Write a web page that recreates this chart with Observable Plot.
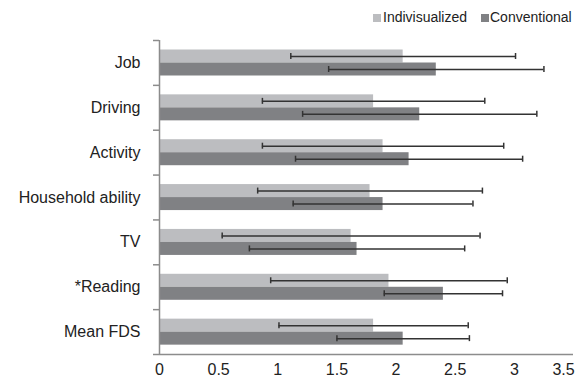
<!DOCTYPE html>
<html>
<head>
<meta charset="utf-8">
<script src="https://cdn.jsdelivr.net/npm/d3@7"></script>
<script src="https://cdn.jsdelivr.net/npm/@observablehq/plot@0.6"></script>
<style>
  body { margin: 0; background: #fff; font-family: "Liberation Sans", Arial, sans-serif; }
  #legend { position: relative; width: 579px; height: 30px; font-size: 14px; color: #222; }
  #legend .sw { position: absolute; width: 8px; height: 8px; top: 14px; }
  #legend .lb { position: absolute; top: 9px; line-height: 16px; white-space: nowrap; }
</style>
</head>
<body>
<div id="legend"></div>
<div id="chart"></div>
<script>
const categories = ["Job", "Driving", "Activity", "Household ability", "TV", "*Reading", "Mean FDS"];
const seriesNames = ["Indivisualized", "Conventional"];
const indivMean = [2.06, 1.81, 1.89, 1.78, 1.62, 1.94, 1.81];
const indivSD   = [0.95, 0.94, 1.02, 0.95, 1.09, 1.00, 0.80];
const convMean  = [2.34, 2.20, 2.11, 1.89, 1.67, 2.40, 2.06];
const convSD    = [0.91, 0.99, 0.96, 0.76, 0.91, 0.50, 0.56];
const xTicks = [0, 0.5, 1, 1.5, 2, 2.5, 3, 3.5];
const colors = ["#bcbdc0", "#808184"];

const rows = [];
categories.forEach((c, i) => {
  rows.push({cat: c, series: seriesNames[0], mean: indivMean[i], lo: indivMean[i] - indivSD[i], hi: indivMean[i] + indivSD[i]});
  rows.push({cat: c, series: seriesNames[1], mean: convMean[i], lo: convMean[i] - convSD[i], hi: convMean[i] + convSD[i]});
});
const ind = rows.filter(d => d.series === seriesNames[0]);
const con = rows.filter(d => d.series === seriesNames[1]);

const H = 350, mT = 10, mB = 26;
const bw = (H - mT - mB) / categories.length;
// bar geometry inside band
const b1 = 9.5, b2 = 22.5, b3 = 35.5;
const capH = 6;

const grey = "#8c8c8c";
const errColor = "#333";

const chart = Plot.plot({
  width: 579,
  height: H,
  marginLeft: 159,
  marginRight: 6,
  marginTop: mT,
  marginBottom: mB,
  style: {fontFamily: "'Liberation Sans', Arial, sans-serif", fontSize: "16px", color: "#222", background: "#fff"},
  x: {domain: [0, 3.5], axis: null},
  y: {domain: categories, padding: 0, round: false, axis: null},
  marks: [
    Plot.barX(ind, {y: "cat", x: "mean", fill: colors[0], insetTop: b1, insetBottom: bw - b2}),
    Plot.barX(con, {y: "cat", x: "mean", fill: colors[1], insetTop: b2, insetBottom: bw - b3}),
    // error bars
    Plot.ruleY(ind, {y: "cat", x1: "lo", x2: "hi", stroke: errColor, strokeWidth: 1.5, dy: (b1 + b2) / 2 - bw / 2}),
    Plot.ruleY(con, {y: "cat", x1: "lo", x2: "hi", stroke: errColor, strokeWidth: 1.5, dy: (b2 + b3) / 2 - bw / 2}),
    Plot.tickX(ind, {y: "cat", x: "lo", stroke: errColor, strokeWidth: 1.5, insetTop: (b1 + b2) / 2 - capH / 2, insetBottom: bw - (b1 + b2) / 2 - capH / 2}),
    Plot.tickX(ind, {y: "cat", x: "hi", stroke: errColor, strokeWidth: 1.5, insetTop: (b1 + b2) / 2 - capH / 2, insetBottom: bw - (b1 + b2) / 2 - capH / 2}),
    Plot.tickX(con, {y: "cat", x: "lo", stroke: errColor, strokeWidth: 1.5, insetTop: (b2 + b3) / 2 - capH / 2, insetBottom: bw - (b2 + b3) / 2 - capH / 2}),
    Plot.tickX(con, {y: "cat", x: "hi", stroke: errColor, strokeWidth: 1.5, insetTop: (b2 + b3) / 2 - capH / 2, insetBottom: bw - (b2 + b3) / 2 - capH / 2}),
    // axes lines
    Plot.ruleX([0], {stroke: grey, strokeWidth: 1.5}),
    Plot.ruleY([categories[categories.length - 1]], {stroke: grey, strokeWidth: 1.5, dy: bw / 2}),
    // y axis boundary ticks
    Plot.axisY({tickSize: 6, text: null, label: null, stroke: grey, strokeWidth: 1.5, dy: -bw / 2}),
    Plot.axisY({ticks: [categories[categories.length - 1]], tickSize: 6, text: null, label: null, stroke: grey, strokeWidth: 1.5, dy: bw / 2}),
    Plot.axisY({tickSize: 0, tickPadding: 19, label: null, fontSize: 16, fill: "#222"}),
    // x axis labels
    Plot.axisX({ticks: xTicks.slice(0, -1), tickSize: 0, tickPadding: 9, label: null, fontSize: 16, fill: "#222", tickFormat: d => String(d)}),
    Plot.axisX({ticks: xTicks.slice(-1), tickSize: 0, tickPadding: 9, label: null, fontSize: 16, fill: "#222", dx: -10, tickFormat: d => String(d)})
  ]
});
document.getElementById("chart").appendChild(chart);

const legend = document.getElementById("legend");
const legendPos = [[373, 383], [481, 490]];
seriesNames.forEach((s, i) => {
  const sw = document.createElement("div");
  sw.className = "sw";
  sw.style.left = legendPos[i][0] + "px";
  sw.style.background = colors[i];
  legend.appendChild(sw);
  const lb = document.createElement("div");
  lb.className = "lb";
  lb.style.left = legendPos[i][1] + "px";
  lb.textContent = s;
  legend.appendChild(lb);
});
</script>
</body>
</html>
